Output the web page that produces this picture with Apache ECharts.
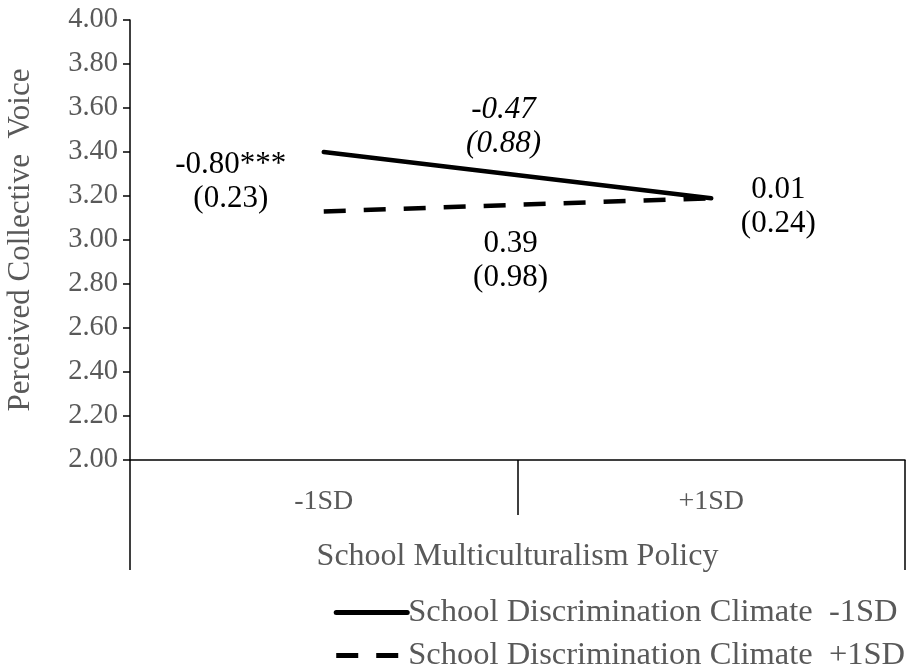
<!DOCTYPE html>
<html>
<head>
<meta charset="utf-8">
<script src="https://cdn.jsdelivr.net/npm/echarts@6/dist/echarts.min.js"></script>
<style>
  html, body { margin: 0; padding: 0; background: #fff; }
  #chart { width: 908px; height: 672px; }
</style>
</head>
<body>
<div id="chart"></div>
<script>
/* 简单斜率图 */

var categories = ['-1SD', '+1SD'];
var seriesNames = ['School Discrimination Climate  -1SD', 'School Discrimination Climate  +1SD'];
var lowClimate = [3.40, 3.19];
var highClimate = [3.13, 3.19];
var yTicks = { min: 2.0, max: 4.0, step: 0.2 };

// slope / coefficient annotations
var noteLowStart = '-0.80***\n(0.23)';
var noteLowSlope = '-0.47\n(0.88)';
var noteHighSlope = '0.39\n(0.98)';
var noteEnd = '0.01\n(0.24)';

var font = 'Liberation Serif, Times New Roman, serif';
var grey = '#595959';

var chart = echarts.init(document.getElementById('chart'));

var option = {
    animation: false,
    textStyle: { fontFamily: font },
    grid: { left: 130, right: 3, top: 20, bottom: 212, containLabel: false, outerBoundsMode: 'none' },
    legend: {
        orient: 'vertical',
        right: 3,
        top: 596,
        padding: 0,
        itemWidth: 71,
        itemHeight: 10,
        itemGap: 10,
        data: seriesNames,
        itemStyle: { opacity: 0 },
        lineStyle: { width: 5 },
        textStyle: { fontFamily: font, fontSize: 32.5, lineHeight: 32, color: grey, padding: [0, 0, 0, -4] }
    },
    xAxis: [{
        type: 'category',
        data: categories,
        boundaryGap: true,
        axisLine: { lineStyle: { color: '#000', width: 1.5 } },
        axisTick: { show: true, length: 55, interval: 0, lineStyle: { color: '#000', width: 1.5 } },
        axisLabel: { margin: 28, fontSize: 28, color: grey, fontFamily: font },
        name: 'School Multiculturalism Policy',
        nameLocation: 'middle',
        nameGap: 81,
        nameTextStyle: { fontSize: 32, color: grey, fontFamily: font }
    }, {
        // outer frame lines below the axis
        type: 'category',
        data: [''],
        position: 'bottom',
        boundaryGap: true,
        axisLine: { show: false },
        axisTick: { show: true, length: 110, lineStyle: { color: '#000', width: 1.5 } },
        axisLabel: { show: false }
    }],
    yAxis: {
        type: 'value',
        min: yTicks.min,
        max: yTicks.max,
        interval: yTicks.step,
        splitLine: { show: false },
        axisLine: { show: true, lineStyle: { color: '#000', width: 1.5 } },
        axisTick: { show: true, length: 7, lineStyle: { color: '#000', width: 1.5 } },
        axisLabel: {
            fontSize: 28.5, color: grey, fontFamily: font, margin: 12,
            formatter: function (v) { return v.toFixed(2); }
        },
        name: 'Perceived Collective  Voice',
        nameLocation: 'middle',
        nameGap: 94,
        nameTextStyle: { fontSize: 31, color: grey, fontFamily: font }
    },
    series: [{
        name: seriesNames[0],
        type: 'line',
        data: lowClimate,
        symbol: 'none',
        lineStyle: { color: '#000', width: 4.5, type: 'solid', cap: 'round' },
        itemStyle: { color: '#000' }
    }, {
        name: seriesNames[1],
        type: 'line',
        data: highClimate,
        symbol: 'none',
        lineStyle: { color: '#000', width: 4.5, type: [22, 18] },
        itemStyle: { color: '#000' }
    }]
};

chart.setOption(option);

// place the coefficient notes relative to the plotted points
function px(cat, val) { return chart.convertToPixel({ xAxisIndex: 0, yAxisIndex: 0 }, [cat, val]); }
var pStart = px(categories[0], lowClimate[0]);
var pEnd = px(categories[1], lowClimate[1]);
var pMidLow = [(pStart[0] + pEnd[0]) / 2, (pStart[1] + pEnd[1]) / 2];
var pHighStart = px(categories[0], highClimate[0]);
var pMidHigh = [(pHighStart[0] + pEnd[0]) / 2, (pHighStart[1] + pEnd[1]) / 2];

function note(text, x, y, italic) {
    return {
        type: 'text', x: x, y: y,
        style: {
            text: text, fill: '#000', font: (italic ? 'italic ' : '') + '31px ' + font,
            align: 'center', verticalAlign: 'middle', lineHeight: 34
        }
    };
}

chart.setOption({
    graphic: [
        note(noteLowStart, pStart[0] - 93, pStart[1] + 30),
        note(noteLowSlope, pMidLow[0] - 14, pMidLow[1] - 48, true),
        note(noteHighSlope, pMidHigh[0] - 7, pMidHigh[1] + 56),
        note(noteEnd, pEnd[0] + 67, pEnd[1] + 9)
    ]
});
</script>
</body>
</html>
